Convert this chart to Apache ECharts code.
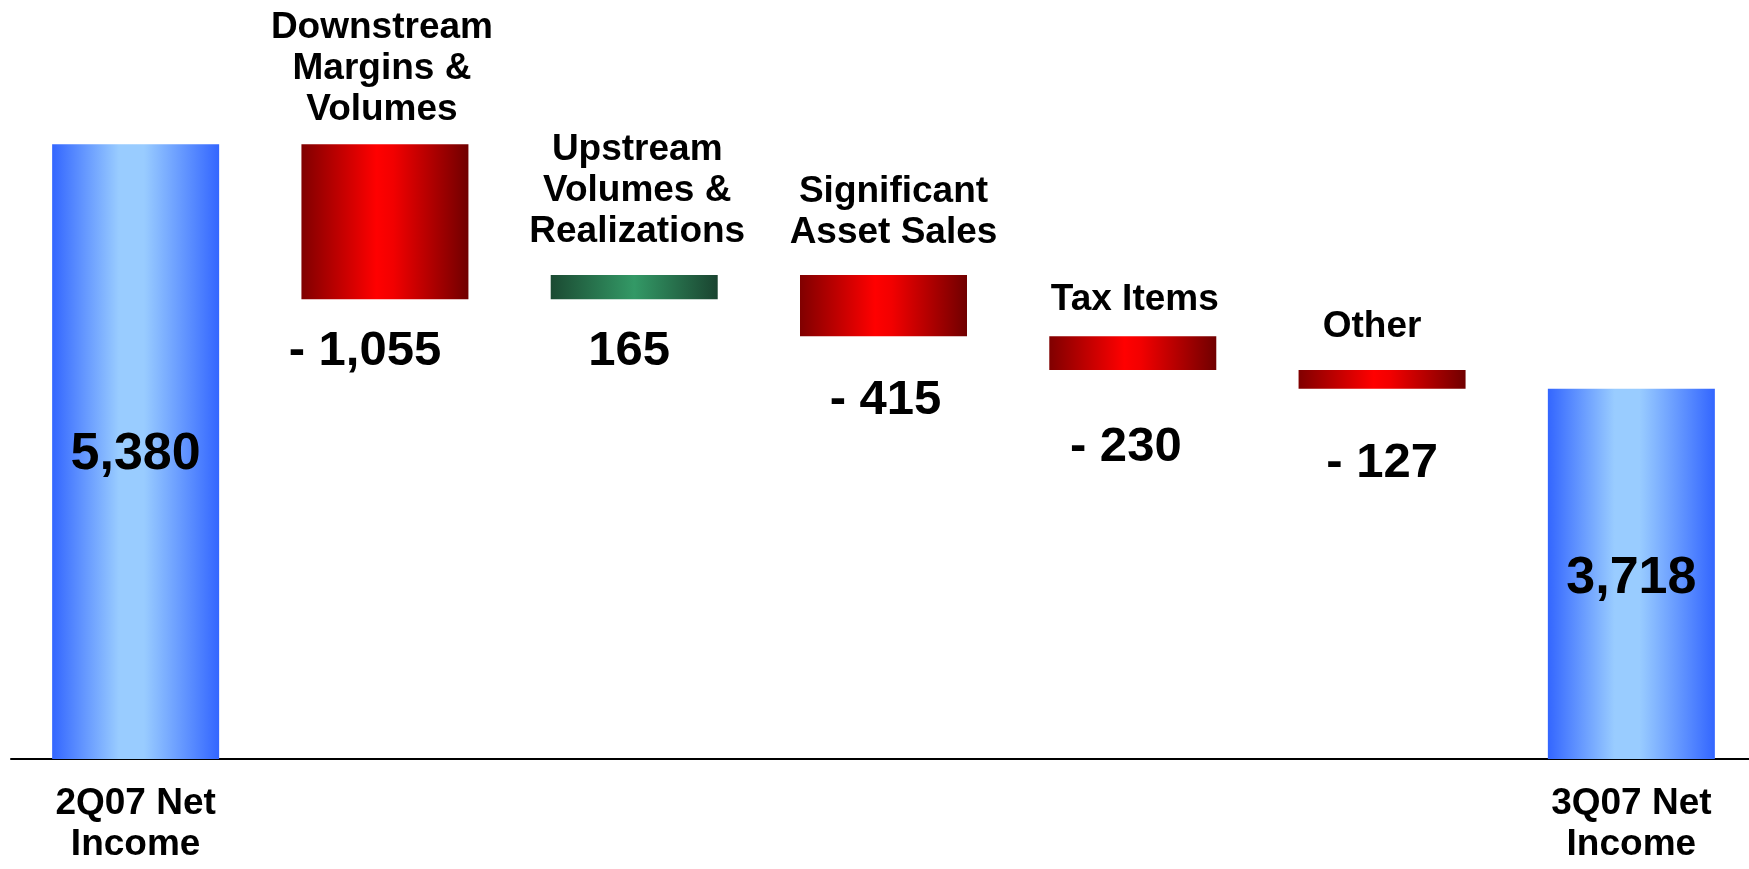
<!DOCTYPE html>
<html>
<head>
<meta charset="utf-8">
<script src="https://cdn.jsdelivr.net/npm/echarts@6/dist/echarts.min.js"></script>
<style>
  html, body { margin: 0; padding: 0; background: #ffffff; }
  #chart { width: 1749px; height: 869px; }
</style>
</head>
<body>
<div id="chart"></div>
<script>
// ---- data ----
const categories = [
  '2Q07 Net\nIncome',
  'Downstream\nMargins &\nVolumes',
  'Upstream\nVolumes &\nRealizations',
  'Significant\nAsset Sales',
  'Tax Items',
  'Other',
  '3Q07 Net\nIncome'
];
const values = [5380, -1055, 165, -415, -230, -127, 3718];
const isTotal = [true, false, false, false, false, false, true];

// ---- layout tweaks (label nudges, not data) ----
const nameLabelDistance = [0, 13.5, 23, 21.5, 15.5, 22.5, 0];
const nameLabelDx = [0, -3, 3, 10, 2, -10, 0];
const valueLabelDistance = [0, 28, 28, 40, 53, 50, 0];
const valueLabelDx = [0, -20, -5, 2, -7, 0, 0];
const totalLabelDy = [3, 0, 0, 0, 0, 0, 4.5];

// ---- styles ----
function grad(stops) {
  return { type: 'linear', x: 0, y: 0, x2: 1, y2: 0,
    colorStops: stops.map(s => ({ offset: s[0], color: s[1] })) };
}
const blueFill = grad([[0, '#3366ff'], [0.4, '#99ccff'], [0.55, '#99ccff'], [1, '#3366ff']]);
const redFill = grad([[0, '#800000'], [0.45, '#ff0000'], [0.55, '#f20000'], [1, '#700000']]);
const greenFill = grad([[0, '#1b4a32'], [0.5, '#339966'], [1, '#1a4430']]);

function fmt(v) {
  const s = Math.abs(v).toLocaleString('en-US');
  return v < 0 ? '- ' + s : s;
}

// ---- build waterfall ----
const baseData = [];
const barData = [];
let running = 0;
values.forEach((v, i) => {
  if (isTotal[i]) {
    running = v;
    baseData.push({ value: 0, label: { show: false } });
    barData.push({
      value: v,
      itemStyle: { color: blueFill },
      label: {
        show: true, position: 'inside', formatter: fmt(v),
        fontSize: 52, fontWeight: 'bold', color: '#000',
        offset: [0, totalLabelDy[i]]
      }
    });
  } else {
    const next = running + v;
    const low = Math.min(running, next);
    running = next;
    baseData.push({
      value: low,
      label: {
        show: true, position: 'insideTop', distance: valueLabelDistance[i],
        offset: [valueLabelDx[i], 0],
        formatter: fmt(v), fontSize: 49, fontWeight: 'bold', color: '#000',
        lineHeight: 49
      }
    });
    barData.push({
      value: Math.abs(v),
      itemStyle: { color: v >= 0 ? greenFill : redFill },
      label: {
        show: true, position: 'top', distance: nameLabelDistance[i],
        offset: [nameLabelDx[i], 0],
        formatter: categories[i], fontSize: 37, fontWeight: 'bold',
        color: '#000', lineHeight: 41, align: 'center'
      }
    });
  }
});

const chart = echarts.init(document.getElementById('chart'), null, { renderer: 'canvas' });
chart.setOption({
  animation: false,
  backgroundColor: '#ffffff',
  textStyle: { fontFamily: '"Liberation Sans", Arial, sans-serif' },
  grid: { left: 11, width: 1745, top: 53, bottom: 110, containLabel: false, outerBoundsMode: 'none' },
  xAxis: {
    type: 'category',
    data: categories,
    axisLine: { show: true, lineStyle: { color: '#000', width: 2 } },
    axisTick: { show: false },
    axisLabel: {
      interval: 0, margin: 24,
      formatter: (v, i) => (isTotal[i] ? v : ''),
      fontSize: 37, fontWeight: 'bold', color: '#000', lineHeight: 41,
      fontFamily: '"Liberation Sans", Arial, sans-serif'
    },
    splitLine: { show: false }
  },
  yAxis: {
    type: 'value', min: 1200, max: 6000, show: false,
    splitLine: { show: false }
  },
  series: [
    {
      name: 'base', type: 'bar', stack: 'w', barWidth: 167,
      itemStyle: { color: 'rgba(0,0,0,0)' },
      emphasis: { disabled: true },
      data: baseData
    },
    {
      name: 'change', type: 'bar', stack: 'w', barWidth: 167,
      emphasis: { disabled: true },
      data: barData
    }
  ]
});
</script>
</body>
</html>
